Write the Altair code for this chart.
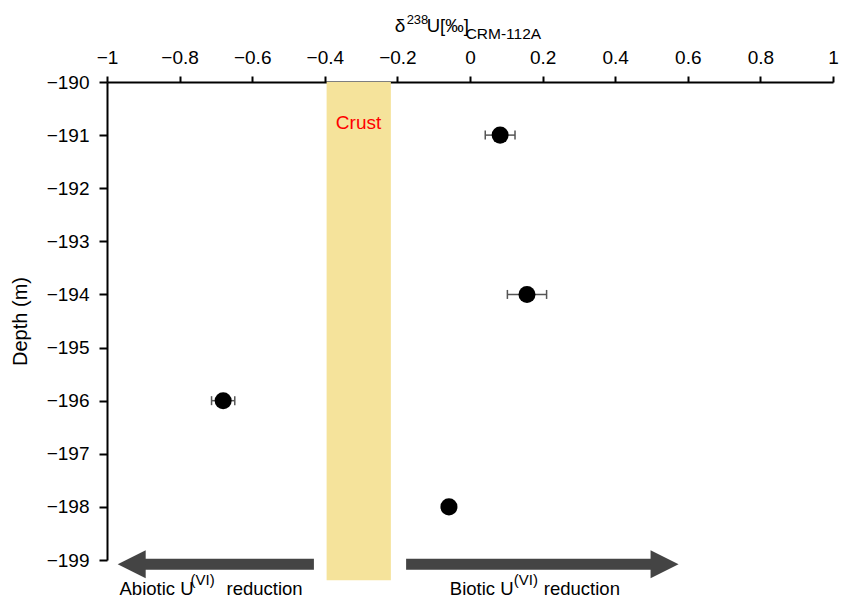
import altair as alt
import pandas as pd

FONT = "Liberation Sans"

# ---- data ----
depth = [-191, -194, -196, -198]
delta = [0.083, 0.157, -0.68, -0.058]
err = [0.041, 0.054, 0.032, 0.012]

x_ticks = [-1, -0.8, -0.6, -0.4, -0.2, 0, 0.2, 0.4, 0.6, 0.8, 1]
y_ticks = [-190, -191, -192, -193, -194, -195, -196, -197, -198, -199]

crust_x = [-0.395, -0.218]
crust_depth = [-190, -199.38]
crust_label = "Crust"
crust_label_pos = [-0.307, -190.77]

arrow_depth = -199.08
left_arrow = [-0.43, -0.97]    # tail, tip
right_arrow = [-0.176, 0.574]  # tail, tip
shaft_cut = 0.06
head_mid = 0.038

# ---- scales / axes ----
xs = alt.Scale(domain=[-1, 1], nice=False, zero=False)
ys = alt.Scale(domain=[-199, -190], nice=False, zero=False)
xaxis = alt.Axis(orient="top", values=x_ticks, format="~g", tickSize=6, labelPadding=9,
                 grid=False, labelFlush=False)
yaxis = alt.Axis(values=y_ticks, format="d", tickSize=8, labelPadding=10, grid=False,
                 titlePadding=16, labelFlush=False)
X = alt.X("x:Q", scale=xs, axis=xaxis, title=None)
Y = alt.Y("y:Q", scale=ys, axis=yaxis, title="Depth (m)")

# crust band
band = alt.Chart(pd.DataFrame({"x": [crust_x[0]], "x2": [crust_x[1]],
                               "y": [crust_depth[0]], "y2": [crust_depth[1]]})).mark_rect(
    color="#F5E39B", opacity=1).encode(x=X, x2="x2:Q", y=Y, y2="y2:Q")

crust_txt = alt.Chart(pd.DataFrame({"x": [crust_label_pos[0]], "y": [crust_label_pos[1]],
                                    "t": [crust_label]})).mark_text(
    color="#FF0000", fontSize=19, font=FONT, align="center", baseline="middle").encode(
    x=X, y=Y, text="t:N")

# arrows
shafts = alt.Chart(pd.DataFrame({
    "x": [left_arrow[0], right_arrow[0]],
    "x2": [left_arrow[1] + shaft_cut, right_arrow[1] - shaft_cut],
    "y": [arrow_depth, arrow_depth]})).mark_rule(color="#444444", strokeWidth=11).encode(
    x=X, x2="x2:Q", y=Y)

head_l = alt.Chart(pd.DataFrame({"x": [left_arrow[1] + head_mid], "y": [arrow_depth]})).mark_point(
    shape="M1,-1L-1,0L1,1Z", filled=True, size=784, color="#444444", opacity=1,
    strokeWidth=0).encode(x=X, y=Y)
head_r = alt.Chart(pd.DataFrame({"x": [right_arrow[1] - head_mid], "y": [arrow_depth]})).mark_point(
    shape="M-1,-1L1,0L-1,1Z", filled=True, size=784, color="#444444", opacity=1,
    strokeWidth=0).encode(x=X, y=Y)

# error bars
eb = pd.DataFrame({"x": [d - e for d, e in zip(delta, err)],
                   "x2": [d + e for d, e in zip(delta, err)],
                   "y": depth})
bars = alt.Chart(eb).mark_rule(color="#555555", strokeWidth=1.5).encode(x=X, x2="x2:Q", y=Y)
caps_df = pd.DataFrame({"x": list(eb["x"]) + list(eb["x2"]), "y": depth + depth})
caps = alt.Chart(caps_df).mark_tick(orient="vertical", size=9, thickness=1.5,
                                    color="#555555", opacity=1).encode(x=X, y=Y)

points = alt.Chart(pd.DataFrame({"x": delta, "y": depth})).mark_circle(
    size=290, color="black", opacity=1).encode(x=X, y=Y)


def piece(txt, x, dx, ypix, fs):
    return alt.Chart(pd.DataFrame({"x": [x], "t": [txt]})).mark_text(
        align="left", baseline="alphabetic", fontSize=fs, font=FONT, color="black",
        dx=dx).encode(x=X, y=alt.value(ypix), text="t:N")


# x-axis title pieces: δ^238 U[‰]_CRM-112A
title_anchor = -0.2076
title_text = ["δ", "238", "U[‰]", "CRM-112A"]
title_dx = [0, 12, 32, 71]
title_y = [-50, -58, -50, -43]
title_fs = [19, 13, 18.5, 15.5]

# bottom labels
bottom_text = ["Abiotic U", "(VI)", "reduction", "Biotic U", "(VI)", "reduction"]
bottom_anchor = [-0.9655, -0.9655, -0.9655, -0.0556, -0.0556, -0.0556]
bottom_dx = [0, 71, 107, 0, 64, 94]
bottom_y = [513, 503, 513, 513, 503, 513]
bottom_fs = [18.5, 15, 18.5, 18.5, 15, 18.5]

layers = [band, crust_txt, shafts, head_l, head_r, bars, caps, points]
for t, dx, y, f in zip(title_text, title_dx, title_y, title_fs):
    layers.append(piece(t, title_anchor, dx, y, f))
for t, a, dx, y, f in zip(bottom_text, bottom_anchor, bottom_dx, bottom_y, bottom_fs):
    layers.append(piece(t, a, dx, y, f))

chart = alt.layer(*layers).properties(
    width=726, height=478,
    autosize=alt.AutoSizeParams(type="none"),
    padding={"left": 99, "top": 74, "right": 6, "bottom": 40},
).configure_view(stroke=None).configure_axis(
    labelFont=FONT, titleFont=FONT, labelFontSize=19, titleFontSize=20,
    labelColor="black", titleColor="black", titleFontWeight="normal",
    domainColor="black", tickColor="black", domainWidth=2, tickWidth=2,
)

chart.save("out.html", embed_options={"renderer": "svg", "actions": False})
